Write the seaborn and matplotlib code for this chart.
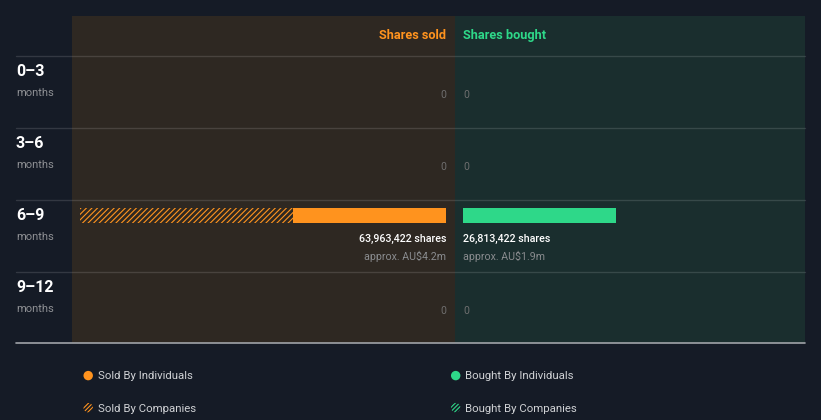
import matplotlib
matplotlib.use("Agg")
import matplotlib.pyplot as plt
import matplotlib.patches as mpatches
from matplotlib.legend_handler import HandlerPatch
import seaborn as sns
import pandas as pd

# ---------------- data ----------------
periods = ["0–3", "3–6", "6–9", "9–12"]
period_unit = "months"
sold_by_individuals = [0, 0, 26_813_422, 0]
sold_by_companies = [0, 0, 37_150_000, 0]
bought_by_individuals = [0, 0, 26_813_422, 0]
bought_by_companies = [0, 0, 0, 0]
sold_value_label = ["", "", "approx. AU$4.2m", ""]
bought_value_label = ["", "", "approx. AU$1.9m", ""]

# ---------------- style ----------------
BG = "#151b26"
SOLD_BG = "#2e2822"
BOUGHT_BG = "#1a2e2e"
ORANGE = "#ff931e"
GREEN = "#2ed889"
GRID = (1, 1, 1, 0.13)

sns.set_style("dark")
plt.rcParams["font.family"] = ["Roboto", "DejaVu Sans"]
plt.rcParams["hatch.linewidth"] = 0.8
plt.rcParams["hatch.color"] = ORANGE

W, H = 821, 420
fig = plt.figure(figsize=(W / 100, H / 100), dpi=100, facecolor=BG)

sold_total = [a + b for a, b in zip(sold_by_individuals, sold_by_companies)]
bought_total = [a + b for a, b in zip(bought_by_individuals, bought_by_companies)]
vmax = max(max(sold_total), max(bought_total))

df = pd.DataFrame({
    "period": periods,
    "sold_total": sold_total,
    "sold_ind": sold_by_individuals,
    "bought_total": bought_total,
    "bought_ind": bought_by_individuals,
})

# layout (pixels)
top_px, bot_px = 16, 343
row_top0, row_h = 56, 72
bar_off = 15.5  # bar centre below row top


def px_to_y(px):
    return (px - row_top0 - bar_off) / row_h


def fig_rect(x0, x1):
    return [x0 / W, 1 - bot_px / H, (x1 - x0) / W, (bot_px - top_px) / H]


bar_len_px = 366
k = vmax / bar_len_px  # value per pixel

ax_s = fig.add_axes(fig_rect(72, 455))
ax_b = fig.add_axes(fig_rect(455, 805))
for ax, c in ((ax_s, SOLD_BG), (ax_b, BOUGHT_BG)):
    ax.set_facecolor(c)

bw = 15 / row_h
# sold: hatched total (companies) then solid individuals on top
sns.barplot(data=df, x="sold_total", y="period", order=periods, orient="h",
            ax=ax_s, width=bw, fill=False, color=ORANGE, linewidth=0,
            hatch="//////", errorbar=None)
sns.barplot(data=df, x="sold_ind", y="period", order=periods, orient="h",
            ax=ax_s, width=bw, color=ORANGE, linewidth=0, saturation=1,
            errorbar=None)
sns.barplot(data=df, x="bought_total", y="period", order=periods, orient="h",
            ax=ax_b, width=bw, fill=False, color=GREEN, linewidth=0,
            hatch="//////", errorbar=None)
sns.barplot(data=df, x="bought_ind", y="period", order=periods, orient="h",
            ax=ax_b, width=bw, color=GREEN, linewidth=0, saturation=1,
            errorbar=None)

for p in ax_s.patches:
    if p.get_hatch():
        p.set_edgecolor(ORANGE)
for p in ax_b.patches:
    if p.get_hatch():
        p.set_edgecolor(GREEN)

ax_s.set_xlim((446 - 72) * k, -(455 - 446) * k)
ax_b.set_xlim(-(463 - 455) * k, (805 - 463) * k)
for ax in (ax_s, ax_b):
    ax.set_ylim(px_to_y(bot_px), px_to_y(top_px))
    ax.set_xticks([])
    ax.set_yticks([])
    ax.set_xlabel("")
    ax.set_ylabel("")
    ax.grid(False)
    for s in ax.spines.values():
        s.set_visible(False)

# bar labels
lab_off = (38.5 - bar_off) / row_h
val_off = (56.5 - bar_off) / row_h
for i, p in enumerate(periods):
    for ax, tot, vlab, ha in ((ax_s, sold_total[i], sold_value_label[i], "right"),
                              (ax_b, bought_total[i], bought_value_label[i], "left")):
        if tot > 0:
            ax.text(0, i + lab_off, f"{tot:,} shares", ha=ha, va="center",
                    color="white", fontsize=7.7, fontweight="medium")
            ax.text(0, i + val_off, vlab, ha=ha, va="center",
                    color="#8a8c8f", fontsize=7.7)
        else:
            ax.text(0, i + lab_off, "0", ha=ha, va="center",
                    color="#6e6e6e", fontsize=7.6)

# headers
hdr_y = px_to_y(35.5)
ax_s.text(0, hdr_y, "Shares sold", ha="right", va="center", color=ORANGE,
          fontsize=9.2, fontweight="bold")
ax_b.text(0, hdr_y, "Shares bought", ha="left", va="center", color=GREEN,
          fontsize=9.2, fontweight="bold")

# overlay canvas for row labels and lines
cv = fig.add_axes([0, 0, 1, 1], zorder=5)
cv.set_xlim(0, W)
cv.set_ylim(H, 0)
cv.axis("off")
cv.patch.set_alpha(0)
for i, p in enumerate(periods):
    ytop = row_top0 + row_h * i
    cv.plot([16, 805], [ytop, ytop], color=GRID, lw=1)
    cv.text(16, ytop + 15.5, p, ha="left", va="center", color="white",
            fontsize=11.5, fontweight="bold")
    cv.text(16, ytop + 37, period_unit, ha="left", va="center",
            color="#8e9094", fontsize=8)
cv.plot([16, 805], [bot_px, bot_px], color="#a0a3a8", lw=1.2)


# legend
def circle(legend, orig_handle, xdescent, ydescent, width, height, fontsize):
    return mpatches.Circle((width / 2 - xdescent, height / 2 - ydescent), radius=3.4)


hmap = {mpatches.Patch: HandlerPatch(patch_func=circle)}
leg_kw = dict(frameon=False, fontsize=8.2, labelcolor="#d0d2d5", handlelength=1.0,
              handleheight=1.0, handletextpad=0.35, labelspacing=1.85, borderpad=0,
              borderaxespad=0, loc="upper left", handler_map=hmap)
h1 = [mpatches.Patch(facecolor=ORANGE, edgecolor="none", lw=0),
      mpatches.Patch(facecolor=BG, edgecolor=ORANGE, lw=0, hatch="////////")]
h2 = [mpatches.Patch(facecolor=GREEN, edgecolor="none", lw=0),
      mpatches.Patch(facecolor=BG, edgecolor=GREEN, lw=0, hatch="////////")]
l1 = fig.legend(h1, ["Sold By Individuals", "Sold By Companies"],
                bbox_to_anchor=(82.5 / W, 1 - 370.5 / H), **leg_kw)
l2 = fig.legend(h2, ["Bought By Individuals", "Bought By Companies"],
                bbox_to_anchor=(450 / W, 1 - 370.5 / H), **leg_kw)

fig.savefig("out.png", dpi=100, facecolor=BG)
